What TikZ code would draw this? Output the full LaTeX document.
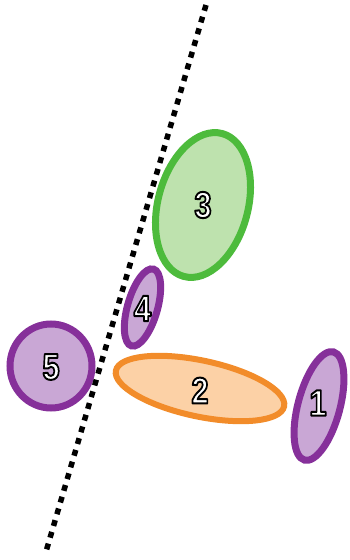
\documentclass[tikz,border=0pt]{standalone}
\usepackage{fontspec}
\usepackage{graphicx}
\usetikzlibrary{shapes.geometric}
\newfontfamily\numfont{Liberation Sans}
\definecolor{cellpurple}{HTML}{86309A}
\definecolor{cellpurplelight}{HTML}{C9A7D5}
\definecolor{cellgreen}{HTML}{4DBB3C}
\definecolor{cellgreenlight}{HTML}{BEE2AE}
\definecolor{cellorange}{HTML}{F28C2A}
\definecolor{cellorangelight}{HTML}{FCD1A6}
% white digits with a black rim (fill + stroke text mode)
\newcommand{\cellnum}[1]{\scalebox{.84}[1]{\color{white}\special{pdf:literal direct 2 Tr 2 w 0 G 1 j}#1\special{pdf:literal direct 0 Tr}}}
\tikzset{
  cell/.style={ellipse, draw, line width=7pt, inner sep=0pt},
  purplecell/.style={cell, draw=cellpurple, fill=cellpurplelight},
  numlabel/.style={font=\numfont\bfseries\fontsize{37}{37}\selectfont, inner sep=0pt},
}

\begin{document}
\begin{tikzpicture}[x=1pt, y=1pt]
    \useasboundingbox (0,0) rectangle (349,560);
    % cells
    \node[cell, draw=cellgreen, fill=cellgreenlight, minimum width=90, minimum height=148, rotate=-15] (c3) at (203,355) {};
    \node[purplecell, minimum width=30, minimum height=80, rotate=-16] (c4) at (142.5,252.5) {};
    \node[purplecell, minimum width=82, minimum height=84] (c5) at (51,194) {};
    \node[cell, draw=cellorange, fill=cellorangelight, line width=6pt, minimum width=172, minimum height=56, rotate=-12] (c2) at (200,171.5) {};
    \node[purplecell, minimum width=42, minimum height=112, rotate=-15] (c1) at (319,154) {};
    % numbers
    \node[numlabel] (n3) at (c3.center) {\cellnum{3}};
    \node[numlabel] (n4) at ([yshift=-1]c4.center) {\cellnum{4}};
    \node[numlabel] (n5) at ([yshift=-1]c5.center) {\cellnum{5}};
    \node[numlabel] (n2) at ([yshift=-2]c2.center) {\cellnum{2}};
    \node[numlabel] (n1) at ([xshift=-1,yshift=3]c1.center) {\cellnum{1}};
    % cut line
    \coordinate (cuttop) at (206,555);
    \coordinate (cutbot) at (45,5);
    \draw[line width=5.5pt, dash pattern=on 6pt off 6.2pt] (cuttop) -- (cutbot);
\end{tikzpicture}
\end{document}
